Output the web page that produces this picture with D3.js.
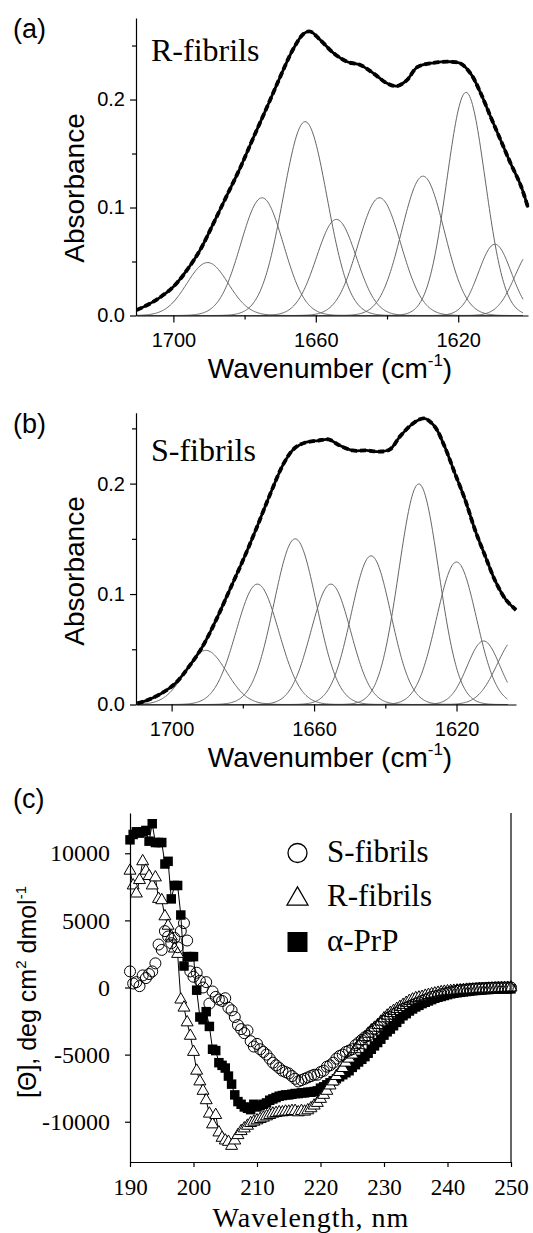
<!DOCTYPE html>
<html lang="en">
<head>
<meta charset="UTF-8">
<script src="https://d3js.org/d3.v7.min.js"></script>
<style>
  body { margin: 0; background: #fff; }
  .sans { font-family: "Liberation Sans", Arial, sans-serif; }
  .serif { font-family: "Liberation Serif", "Times New Roman", serif; }
</style>
<title>FTIR and CD spectra</title>
</head>
<body>
<div id="chart"></div>
<script>
// ---- panel (a): R-fibrils FTIR ----
const rEnvWn  = [1710.3,1705.6,1700,1696.2,1692.5,1688.8,1685,1681.2,1677.5,1673.7,1670,1666.3,1663.4,1661.6,1658.7,1655,1651.2,1647.5,1643.7,1640,1637.2,1634.4,1631.5,1626.9,1622.2,1619.4,1616.5,1613.7,1610.9,1608.1,1605.3,1602.5,1600.4];
const rEnvAbs = [0.005,0.0128,0.0267,0.042,0.0606,0.085,0.111,0.137,0.165,0.193,0.221,0.247,0.261,0.263,0.255,0.243,0.235,0.232,0.224,0.215,0.2125,0.218,0.230,0.234,0.235,0.2335,0.224,0.206,0.184,0.1625,0.141,0.121,0.100];
const rPeakCenter = [1690.4,1675.1,1663,1654.2,1642.1,1629.9,1617.8,1609.7,1599];
const rPeakHeight = [0.049,0.109,0.1795,0.089,0.109,0.129,0.2066,0.066,0.061];
const rPeakWidth  = [5.8,6.0,6.2,5.6,6.0,6.0,5.4,4.6,5.0];

// ---- panel (b): S-fibrils FTIR ----
const sEnvWn  = [1709.6,1706.7,1702.9,1699,1695.2,1691.4,1687.5,1683.7,1679.9,1676,1672.2,1668.4,1665.5,1662.6,1658.8,1655.9,1653.1,1649.2,1645.4,1641.6,1638.7,1635.8,1632,1629.1,1626.2,1623.4,1620.5,1617.6,1614.8,1611.9,1609,1606.1,1603.3];
const sEnvAbs = [0.001,0.004,0.010,0.019,0.034,0.052,0.0766,0.1038,0.131,0.161,0.1915,0.219,0.232,0.237,0.239,0.240,0.235,0.230,0.230,0.229,0.231,0.243,0.255,0.259,0.252,0.234,0.2097,0.1855,0.158,0.134,0.111,0.0947,0.0856];
const sPeakCenter = [1690.4,1675.9,1665.3,1655.3,1644.0,1630.6,1620,1612.4,1603];
const sPeakHeight = [0.049,0.109,0.150,0.109,0.1346,0.1997,0.129,0.0575,0.061];
const sPeakWidth  = [5.8,6.0,6.0,5.6,5.6,5.6,5.6,4.6,5.5];

const ftirMajorTicks = [1700, 1660, 1620];
const ftirMinorTicks = [1680, 1640, 1600];
const absMajorTicks = [0, 0.1, 0.2];
const absMinorTicks = [0.05, 0.15, 0.25];

// ---- panel (c): CD spectra, 190-250 nm every 0.5 nm ----
const cdWavelength = d3.range(190, 250.01, 0.5);
const cdS = [
  1200, 300, 400, 100, 900, 700, 1000, 1200, 1800, 3200,
  2800, 4200, 3800, 3300, 3700, 3000, 4200, 4800, 3500, 1200,
  800, 1100, 500, 0, 400, -1200, -300, -700, -900, -1000,
  -800, -1500, -1700, -2200, -2800, -3100, -3400, -3200, -4000, -4400,
  -4200, -4600, -4800, -5000, -5300, -5600, -5800, -6000, -6200, -6300,
  -6400, -6600, -6800, -7000, -6900, -6800, -6700, -6600, -6500, -6500,
  -6300, -6200, -5900, -5800, -5600, -5300, -5100, -5000, -4800, -4700,
  -4600, -4300, -4100, -3900, -3700, -3600, -3300, -3100, -2900, -2700,
  -2500, -2300, -2200, -2000, -1900, -1700, -1600, -1500, -1400, -1300,
  -1200, -1100, -1000, -900, -800, -700, -650, -600, -500, -450,
  -400, -350, -300, -250, -200, -180, -150, -120, -100, -80,
  -60, -50, -40, -30, -20, -10, 0, 0, 0, 0,
  0];
const cdR = [
  8700, 7600, 7000, 8000, 9400, 8700, 8300, 7600, 8200, 6600,
  6500, 5300, 4600, 3800, 2900, 2500, -900, -1500, -2600, -3600,
  -4800, -6200, -7000, -7700, -8400, -9400, -10200, -9500, -10800, -11200,
  -11400, -11500, -11800, -11400, -11000, -10700, -10500, -10300, -10100, -10000,
  -9900, -9800, -9700, -9600, -9500, -9400, -9350, -9300, -9300, -9250,
  -9250, -9200, -9200, -9300, -9200, -9250, -9150, -9000, -8800, -8600,
  -8300, -8000, -7700, -7300, -7000, -6600, -6300, -6000, -5600, -5300,
  -5000, -4600, -4300, -4000, -3700, -3450, -3200, -3000, -2800, -2550,
  -2300, -2100, -1900, -1750, -1600, -1450, -1300, -1150, -1000, -900,
  -800, -750, -700, -620, -560, -500, -450, -400, -350, -320,
  -290, -270, -250, -230, -210, -190, -170, -160, -150, -140,
  -120, -110, -100, -90, -80, -70, -60, -50, -40, -30,
  0];
const cdA = [
  11000, 11400, 11600, 11500, 11600, 11700, 10900, 12200, 10800, 10800,
  10800, 9200, 9400, 6600, 7600, 7600, 5400, 1600, 2300, 2300,
  2300, -200, -2200, -2400, -1800, -2900, -4600, -4700, -5600, -5800,
  -6000, -6600, -7200, -8000, -8500, -8700, -8900, -9000, -9100, -8700,
  -8900, -8800, -8700, -8600, -8400, -8300, -8200, -8100, -8050, -8000,
  -8000, -7950, -7900, -7900, -7850, -7850, -7800, -7800, -7750, -7700,
  -7500, -7400, -7250, -7100, -6950, -6800, -6650, -6500, -6350, -6200,
  -5950, -5750, -5550, -5350, -5150, -4900, -4600, -4350, -4100, -3850,
  -3550, -3300, -3100, -2850, -2600, -2350, -2100, -1950, -1750, -1600,
  -1450, -1330, -1200, -1100, -1000, -900, -800, -730, -670, -600,
  -530, -470, -430, -390, -360, -330, -300, -270, -240, -220,
  -200, -180, -160, -150, -130, -120, -110, -100, -100, -100,
  -100];
const cdXTicks = [190, 200, 210, 220, 230, 240, 250];
const cdYTicks = [-10000, -5000, 0, 5000, 10000];
const cdLegend = ["S-fibrils", "R-fibrils", "\u03b1-PrP"];

const svg = d3.select("#chart").append("svg")
    .attr("width", 533).attr("height", 1233)
    .style("display", "block");
svg.append("rect").attr("width", 533).attr("height", 1233).attr("fill", "#fff");

function styleAxis(g, cls, size) {
    g.selectAll("path, line").attr("stroke", "#000").attr("stroke-width", 1.2);
    g.selectAll("text").attr("class", cls).attr("fill", "#000").style("font-size", size + "px");
}
const plain = d => String(d);

// draws one FTIR panel
function ftirPanel(p) {
    const x = d3.scaleLinear().domain(p.xDomain).range(p.xRange);
    const y = d3.scaleLinear().domain(p.yDomain).range(p.yRange);
    const g = svg.append("g");

    // gaussian components
    const gline = d3.line().x(d => x(d[0])).y(d => y(d[1]));
    p.centers.forEach((c, i) => {
        const pts = d3.range(p.xDomain[0], p.compEnd, -0.25).concat([p.compEnd])
            .map(w => [w, p.heights[i] * Math.exp(-((w - c) ** 2) / (2 * p.widths[i] ** 2))]);
        g.append("path").datum(pts).attr("d", gline)
            .attr("fill", "none").attr("stroke", "#666").attr("stroke-width", 1);
    });

    // measured (dashed) and fitted (solid) envelope
    const env = p.envWn.map((w, i) => [w, p.envAbs[i]]);
    const eline = d3.line().x(d => x(d[0])).y(d => y(d[1])).curve(d3.curveCatmullRom);
    g.append("path").datum(env).attr("d", eline)
        .attr("fill", "none").attr("stroke", "#000").attr("stroke-width", 3.8)
        .attr("stroke-dasharray", "6,3");
    g.append("path").datum(env).attr("d", eline)
        .attr("fill", "none").attr("stroke", "#000").attr("stroke-width", 2.8);

    // axes
    const xAx = g.append("g").attr("transform", `translate(0,${p.yRange[0]})`)
        .call(d3.axisBottom(x).tickValues(ftirMajorTicks).tickFormat(plain)
            .tickSize(7).tickPadding(10).tickSizeOuter(0));
    styleAxis(xAx, "sans", 20);
    const xMin = g.append("g").attr("transform", `translate(0,${p.yRange[0]})`)
        .call(d3.axisBottom(x).tickValues(ftirMinorTicks.filter(v => v >= p.xDomain[1]))
            .tickSize(4).tickFormat(""));
    xMin.select(".domain").remove();
    styleAxis(xMin, "sans", 20);

    const yAx = g.append("g").attr("transform", `translate(${p.xRange[0]},0)`)
        .call(d3.axisLeft(y).tickValues(absMajorTicks).tickFormat(d3.format(".1f"))
            .tickSize(6).tickPadding(5).tickSizeOuter(0));
    styleAxis(yAx, "sans", 20);
    const yMin = g.append("g").attr("transform", `translate(${p.xRange[0]},0)`)
        .call(d3.axisLeft(y).tickValues(absMinorTicks).tickSize(4).tickFormat(""));
    yMin.select(".domain").remove();
    styleAxis(yMin, "sans", 20);

    // labels
    g.append("text").attr("class", "sans").attr("x", 13).attr("y", p.tagY)
        .style("font-size", "27px").text(p.tag);
    g.append("text").attr("class", "serif").attr("x", 151).attr("y", p.nameY)
        .style("font-size", "32px").text(p.name);
    const xt = g.append("text").attr("class", "sans").attr("x", 330).attr("y", p.yRange[0] + 62)
        .attr("text-anchor", "middle").style("font-size", "28px");
    xt.append("tspan").text("Wavenumber (cm");
    xt.append("tspan").attr("dy", -12).style("font-size", "17px").text("-1");
    xt.append("tspan").attr("dy", 12).text(")");
    g.append("text").attr("class", "sans")
        .attr("transform", `translate(84,${p.yLabelMid}) rotate(-90)`)
        .attr("text-anchor", "middle").style("font-size", "28px").text("Absorbance");
}

ftirPanel({
    xDomain: [1710.5, 1600.4], xRange: [136, 528],
    yDomain: [0, 0.2755], yRange: [315.5, 18],
    envWn: rEnvWn, envAbs: rEnvAbs,
    centers: rPeakCenter, heights: rPeakHeight, widths: rPeakWidth, compEnd: 1601.8,
    tag: "(a)", tagY: 38, name: "R-fibrils", nameY: 61, yLabelMid: 188
});
ftirPanel({
    xDomain: [1710, 1603.3], xRange: [136, 516],
    yDomain: [0, 0.2642], yRange: [704.5, 412.7],
    envWn: sEnvWn, envAbs: sEnvAbs,
    centers: sPeakCenter, heights: sPeakHeight, widths: sPeakWidth, compEnd: 1605.7,
    tag: "(b)", tagY: 433, name: "S-fibrils", nameY: 461, yLabelMid: 571
});

// ---- panel (c) ----
const xC = d3.scaleLinear().domain([190, 250]).range([130, 511]);
const yC = d3.scaleLinear().domain([-13000, 13000]).range([1162, 813]);
const gc = svg.append("g");

const cdRows = cdWavelength.map((w, i) => ({w: w, s: cdS[i], r: cdR[i], a: cdA[i]}));
const triangle = d3.symbol().type(d3.symbolTriangle).size(62);
const square = d3.symbol().type(d3.symbolSquare).size(90);

// alpha-PrP: line + filled squares
gc.append("path").datum(cdRows)
    .attr("d", d3.line().x(d => xC(d.w)).y(d => yC(d.a)))
    .attr("fill", "none").attr("stroke", "#000").attr("stroke-width", 1);
gc.selectAll(".sq").data(cdRows).join("path").attr("class", "sq")
    .attr("transform", d => `translate(${xC(d.w)},${yC(d.a)})`)
    .attr("d", square).attr("fill", "#000");

// R-fibrils: line + open triangles
gc.append("path").datum(cdRows)
    .attr("d", d3.line().x(d => xC(d.w)).y(d => yC(d.r)))
    .attr("fill", "none").attr("stroke", "#000").attr("stroke-width", 1);
gc.selectAll(".tri").data(cdRows).join("path").attr("class", "tri")
    .attr("transform", d => `translate(${xC(d.w)},${yC(d.r)})`)
    .attr("d", triangle).attr("fill", "#fff").attr("stroke", "#000").attr("stroke-width", 1);

// S-fibrils: open circles
gc.selectAll(".circ").data(cdRows).join("circle").attr("class", "circ")
    .attr("cx", d => xC(d.w)).attr("cy", d => yC(d.s)).attr("r", 5.5)
    .attr("fill", "none").attr("stroke", "#000").attr("stroke-width", 1);

// axes and frame
const xAxC = gc.append("g").attr("transform", "translate(0,1162)")
    .call(d3.axisBottom(xC).tickValues(cdXTicks).tickFormat(plain)
        .tickSize(5).tickPadding(12).tickSizeOuter(0));
styleAxis(xAxC, "serif", 23);
const yAxC = gc.append("g").attr("transform", "translate(130,0)")
    .call(d3.axisLeft(yC).tickValues(cdYTicks).tickFormat(plain)
        .tickSize(5).tickPadding(15).tickSizeOuter(0));
styleAxis(yAxC, "serif", 24);
gc.append("line").attr("x1", xC(250)).attr("x2", xC(250)).attr("y1", yC(13000)).attr("y2", yC(-13000))
    .attr("stroke", "#000").attr("stroke-width", 1.2);

// legend
const legY = [853, 897, 942];
gc.append("circle").attr("cx", 297.5).attr("cy", legY[0]).attr("r", 9.5)
    .attr("fill", "none").attr("stroke", "#000").attr("stroke-width", 1.3);
gc.append("path").attr("transform", `translate(297.5,${legY[1] + 2})`)
    .attr("d", d3.symbol().type(d3.symbolTriangle).size(190))
    .attr("fill", "#fff").attr("stroke", "#000").attr("stroke-width", 1.3);
gc.append("path").attr("transform", `translate(297.5,${legY[2]})`)
    .attr("d", d3.symbol().type(d3.symbolSquare).size(400)).attr("fill", "#000");
cdLegend.forEach((t, i) => {
    gc.append("text").attr("class", "serif").attr("x", 327).attr("y", legY[i] + 9)
        .style("font-size", "31px").text(t);
});

// titles
gc.append("text").attr("class", "sans").attr("x", 13).attr("y", 808)
    .style("font-size", "27px").text("(c)");
gc.append("text").attr("class", "serif").attr("x", 311).attr("y", 1227)
    .attr("text-anchor", "middle").style("font-size", "28px").style("letter-spacing", "1px")
    .text("Wavelength, nm");
const yt = gc.append("text").attr("class", "sans")
    .attr("transform", "translate(36,992) rotate(-90)")
    .attr("text-anchor", "middle").style("font-size", "25px");
yt.append("tspan").text("[\u0398], deg cm");
yt.append("tspan").attr("dy", -10).style("font-size", "15px").text("2");
yt.append("tspan").attr("dy", 10).text(" dmol");
yt.append("tspan").attr("dy", -10).style("font-size", "15px").text("-1");
</script>
</body>
</html>
